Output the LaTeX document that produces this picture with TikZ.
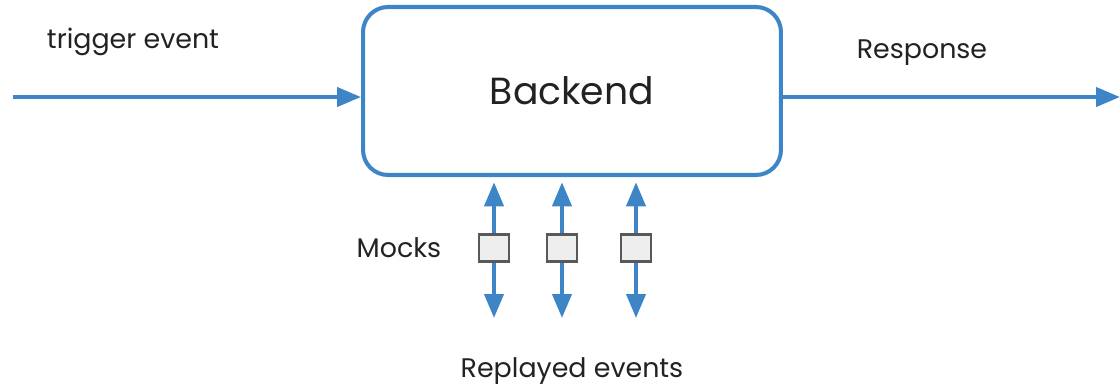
\documentclass[tikz,border=0pt]{standalone}
\usepackage{fontspec}
\setmainfont{Poppins}
\usetikzlibrary{arrows.meta}

\definecolor{flow}{HTML}{3D85C6}
\definecolor{mockfill}{HTML}{EEEEEE}
\definecolor{mockline}{HTML}{595959}
\definecolor{ink}{HTML}{222222}

\tikzset{
  link/.style={draw=flow, line width=2.3pt, -{Triangle[length=0.48cm, width=0.38cm]}},
  backendbox/.style={draw=flow, line width=2.3pt, rounded corners=0.5cm,
    minimum width=8.36cm, minimum height=3.36cm, text=ink,
    font=\fontsize{21.5}{26}\selectfont},
  mockbox/.style={draw=mockline, fill=mockfill, line width=1.2pt,
    minimum width=0.6cm, minimum height=0.54cm, inner sep=0pt},
  label/.style={text=ink, font=\fontsize{15.3}{18}\selectfont}
}

\begin{document}
\begin{tikzpicture}[x=0.02cm, y=-0.02cm]
  \useasboundingbox (0,0) rectangle (1120,389);
  \draw
    (572,91) node[backendbox] (backend){Backend}
    (494,248) node[mockbox] (m1){}
    (562,248) node[mockbox] (m2){}
    (636,248) node[mockbox] (m3){}
    (133,42) node[label] (trigger){trigger event}
    (922,53) node[label] (response){Response}
    (399,248) node[label] (mocks){Mocks}
    (572,371) node[label] (replayed){Replayed events};
  \coordinate (in) at (13,97);
  \coordinate (out) at (1120,97);
  \coordinate (r1) at (494,318);
  \coordinate (r2) at (562,318);
  \coordinate (r3) at (636,318);
  \begin{scope}[link]
    \draw (in) to (in -| backend.west);
    \draw (out -| backend.east) to (out);
  \end{scope}
  % mocks answer up into the backend
  \begin{scope}[link, shorten >=3pt]
    \draw (m1.north) to (m1 |- backend.south);
    \draw (m2.north) to (m2 |- backend.south);
    \draw (m3.north) to (m3 |- backend.south);
  \end{scope}
  \begin{scope}[link]
    \draw (m1.south) to (r1);
    \draw (m2.south) to (r2);
    \draw (m3.south) to (r3);
  \end{scope}
\end{tikzpicture}
\end{document}
